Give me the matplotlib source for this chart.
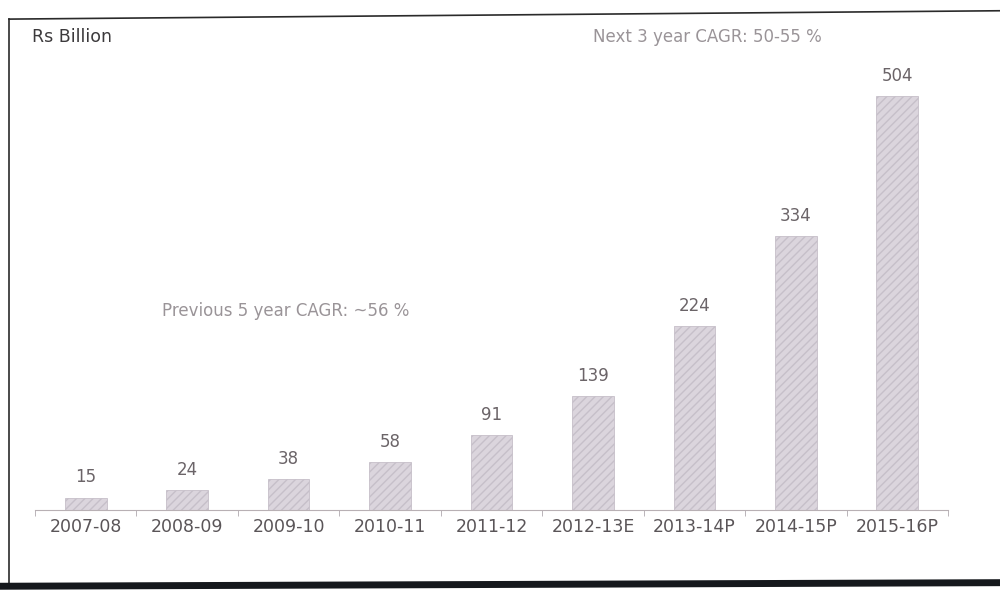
import numpy as np
import matplotlib.pyplot as plt
from matplotlib.lines import Line2D

years = ["2007-08", "2008-09", "2009-10", "2010-11", "2011-12",
         "2012-13E", "2013-14P", "2014-15P", "2015-16P"]
values = [15, 24, 38, 58, 91, 139, 224, 334, 504]

plt.rcParams["font.family"] = ["DejaVu Sans"]
plt.rcParams["hatch.color"] = "#c4bccb"

fig = plt.figure(figsize=(10, 5.97), dpi=100)
ax = fig.add_axes([0.035, 0.146, 0.913, 0.77])

x = np.arange(len(years))
ax.bar(x, values, width=0.41, color="#dbd5dd", edgecolor="#c6bfc9",
       linewidth=0.6, hatch="////")

for xi, v in zip(x, values):
    ax.annotate(str(v), (xi, v), xytext=(0, 8), textcoords="offset points",
                ha="center", va="bottom", fontsize=12, color="#6b6468")

ax.set_xlim(-0.5, len(years) - 0.5)
ax.set_ylim(0, 560)
ax.set_xticks(x)
ax.set_xticklabels(years, fontsize=12.5, color="#5a5558")
ax.set_xticks(np.arange(-0.5, len(years)), minor=True)
ax.tick_params(axis="x", which="major", length=0, pad=6)
ax.tick_params(axis="x", which="minor", length=4, color="#b0a8ae", direction="out")
ax.set_yticks([])
for side in ["top", "right", "left"]:
    ax.spines[side].set_visible(False)
ax.spines["bottom"].set_color("#b8b0b4")
ax.spines["bottom"].set_linewidth(0.8)

fig.text(0.032, 0.938, "Rs Billion", fontsize=12.5, color="#3c3a3c", va="center")
fig.text(0.593, 0.938, "Next 3 year CAGR: 50-55 %", fontsize=12,
         color="#9a9498", va="center")
fig.text(0.162, 0.479, "Previous 5 year CAGR: ~56 %", fontsize=12,
         color="#9a9498", va="center")

# outer frame
fig.add_artist(Line2D([0.009, 0.009], [0.022, 0.968], color="#2a2a2a", lw=1.2))
fig.add_artist(Line2D([0.009, 1.0], [0.968, 0.982], color="#2a2a2a", lw=1.2))
fig.add_artist(Line2D([0.0, 1.0], [0.018, 0.024], color="#15181c", lw=5))

fig.savefig("out.png", dpi=100, facecolor="white")
